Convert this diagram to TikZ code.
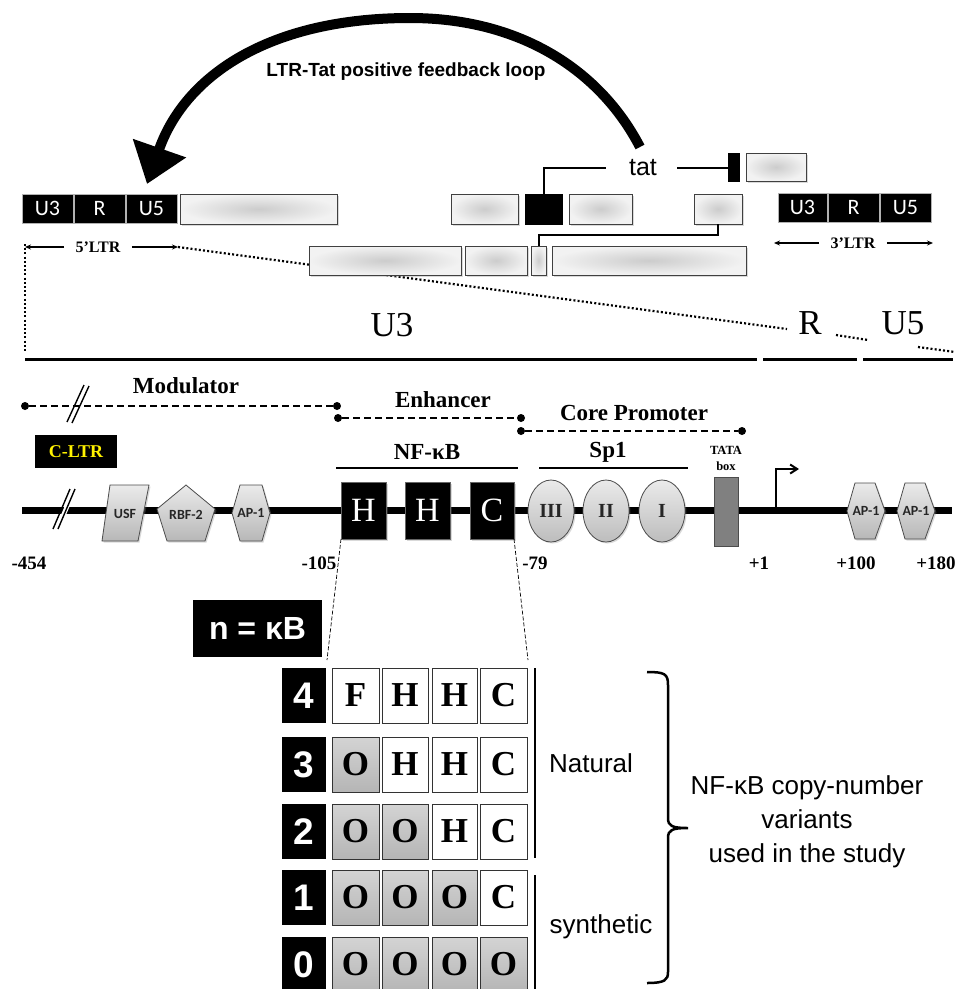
\documentclass[tikz,border=0pt]{standalone}
\usepackage{fontspec}
\setmainfont{Liberation Serif}
\newfontfamily\arial{Liberation Sans}
\newfontfamily\calib{Carlito}
\usetikzlibrary{arrows.meta,shapes.geometric,shadows}
\newcommand\myfs[1]{\fontsize{#1}{#1}\selectfont}
\newcommand\mybox[7]{\node[#1,inner sep=0pt,outer sep=0pt,anchor=north west,minimum width={(#5-#3)*1pt},minimum height={(#6-#4)*1pt}] (#2) at (#3,#4) {#7};}
\tikzset{
  shd/.style={drop shadow={opacity=0.3,shadow xshift=1.5pt,shadow yshift=-1.5pt}},
  gbox/.style={draw=black!75,line width=0.8pt,inner color=black!20,outer color=black!5,shd},
  blk/.style={fill=black,draw=black!30,line width=0.6pt,text=white,font=\calib\myfs{22}},
  blkx/.style={fill=black,draw=black},
  shp/.style={draw=black!70,line width=0.8pt,top color=black!8,bottom color=black!28,shd},
  shl/.style={font=\calib\bfseries\myfs{14},text=black!85},
  ell/.style={ellipse,draw=black!70,line width=0.8pt,top color=black!8,bottom color=black!26,shd,inner sep=0pt,font=\bfseries\myfs{20},text=black!85},
  hbx/.style={fill=black,draw=black!60,text=white,font=\myfs{34},shd},
  dotl/.style={line width=2.2pt,dash pattern=on 2pt off 2.2pt},
  dashl/.style={line width=2.2pt,dash pattern=on 7pt off 4pt},
  dotn/.style={circle,fill=black,inner sep=0pt,minimum size=8pt},
  lbl/.style={font=\bfseries\myfs{23}},
  poslbl/.style={font=\bfseries\myfs{19}},
  num/.style={fill=black,text=white,font=\arial\bfseries\myfs{37}},
  wc/.style={draw=black!80,line width=1pt,fill=white,font=\bfseries\myfs{35}},
  gc/.style={draw=black!80,line width=1pt,top color=black!17,bottom color=black!29,font=\bfseries\myfs{35}},
  sans/.style={font=\arial\myfs{26}},
  ltrarr/.style={line width=1.3pt,-{Stealth[length=6pt,width=5pt]}},
  tatl/.style={line width=2pt},
}
\begin{document}
\begin{tikzpicture}[x=1pt,y=-1pt]
\useasboundingbox (0,0) rectangle (955,989);

% feedback loop arc
\coordinate (arcS) at (640,147);
\coordinate (arcE) at (147,184);
\draw[line width=10pt,-{Triangle[length=38pt,width=54pt]}] (arcS) .. controls (600,70) and (520,18) .. (410,18) .. controls (270,18) and (185,75) .. (arcE);
\node[font=\arial\bfseries\myfs{19}] (loop) at (406,72) {LTR-Tat positive feedback loop};

% dotted zoom lines
\coordinate (l5a) at (25,247);
\coordinate (l5b) at (178,247);
\coordinate (dv) at (25,352);
\coordinate (dR) at (787,329);
\coordinate (dR1) at (836,335);
\coordinate (dR2) at (868,340);
\coordinate (dU1) at (918,347);
\coordinate (dU2) at (955,352);
\draw[dotl] (l5b) -- (dR);
\draw[dotl] (dR1) -- (dR2);
\draw[dotl] (dU1) -- (dU2);
\draw[dotl] ([yshift=3pt]l5a) -- (dv);

% top genome row
\mybox{blk}{u3a}{22}{194}{73}{223}{U3}
\mybox{blk}{ra}{74}{194}{125}{223}{R}
\mybox{blk}{u5a}{126}{194}{177}{223}{U5}
\mybox{gbox}{g1}{180}{194}{337}{224}{}
\mybox{gbox}{g2}{451}{194}{518}{224}{}
\mybox{blkx}{ex1}{525}{194}{562}{224}{}
\mybox{gbox}{g3}{569}{194}{632}{224}{}
\mybox{gbox}{g4}{694}{194}{742}{224}{}
\mybox{blkx}{t2blk}{728}{153}{739}{181}{}
\mybox{gbox}{g5}{746}{153}{806}{181}{}
\mybox{blk}{u3b}{778}{193}{827}{222}{U3}
\mybox{blk}{rb}{828}{193}{879}{222}{R}
\mybox{blk}{u5b}{880}{193}{931}{222}{U5}
\mybox{gbox}{h1}{309}{246}{461}{275}{}
\mybox{gbox}{h2}{465}{246}{527}{275}{}
\mybox{gbox}{h3}{531}{246}{546}{275}{}
\mybox{gbox}{h4}{552}{246}{746}{275}{}

% tat
\node[font=\arial\myfs{25}] (tat) at (643,168) {tat};
\draw[tatl] ([xshift=-20pt]tat.west) -| (ex1.north);
\draw[tatl] ([xshift=17pt]tat.east) -- (tat.east -| t2blk.west);
\draw[tatl] (g4.south) -- ++(0,11) -| (h3.north);

% LTR labels
\node[font=\bfseries\myfs{16}] (ltr5) at (98,247) {5’LTR};
\draw[ltrarr] ([xshift=-8pt]ltr5.west) -- (l5a);
\draw[ltrarr] ([xshift=8pt]ltr5.east) -- (l5b);
\node[font=\bfseries\myfs{16}] (ltr3) at (853,243) {3’LTR};
\coordinate (l3a) at (774,243);
\coordinate (l3b) at (933,243);
\draw[ltrarr] ([xshift=-8pt]ltr3.west) -- (l3a);
\draw[ltrarr] ([xshift=8pt]ltr3.east) -- (l3b);

% U3 R U5 zoom
\node[font=\myfs{35}] (bigU3) at (392,325) {U3};
\node[font=\myfs{35}] (bigR) at (810,323) {R};
\node[font=\myfs{35}] (bigU5) at (903,323) {U5};
\draw[line width=3pt] (25,359) -- (757,359);
\draw[line width=3pt] (763,359) -- (857,359);
\draw[line width=3pt] (863,359) -- (953,359);

% regions
\node[dotn] (m1) at (25,406) {};
\node[dotn] (m2) at (337,406) {};
\draw[dashl] (m1) -- (m2);
\draw[line width=1.4pt] (67,422) -- (84,385);
\draw[line width=1.4pt] (72,423) -- (89,386);
\node[lbl] (modl) at (186,386) {Modulator};
\node[dotn] (e1) at (338,418) {};
\node[dotn] (e2) at (521,418) {};
\draw[dashl] (e1) -- (e2);
\node[lbl] (enhl) at (443,400) {Enhancer};
\node[dotn] (c1) at (521,431) {};
\node[dotn] (c2) at (742,431) {};
\draw[dashl] (c1) -- (c2);
\node[lbl] (corel) at (634,413) {Core Promoter};

\mybox{fill=black}{cltr}{35}{435}{117}{468}{\textcolor{yellow}{\bfseries\myfs{18}C-LTR}}
\node[lbl] (nfl) at (427,452) {NF-κB};
\draw[line width=2pt] (336,468) -- (518,468);
\node[lbl] (spl) at (608,452) {Sp1};
\draw[line width=2pt] (539,468) -- (688,468);
\node[font=\bfseries\myfs{12.5}] (tatal) at (726,450) {TATA};
\node[font=\bfseries\myfs{12.5}] (boxl) at (726,466) {box};

% main line
\coordinate (ml1) at (22,510);
\coordinate (ml2) at (952,510);
\draw[line width=7pt] (ml1) -- (ml2);
\fill[white] (55,529) -- (72,489) -- (77,489) -- (60,529) -- cycle;
\draw[line width=1.4pt] (53,529) -- (70,489);
\draw[line width=1.4pt] (58,529) -- (75,489);

% shapes
\draw[shp] (110,485) -- (149,485) -- (138,541) -- (102,541) -- cycle;
\node[shl] (usf) at (125,514) {USF};
\draw[shp] (186,485) -- (215,509) -- (205,541) -- (167,541) -- (157,509) -- cycle;
\node[shl] (rbf) at (186,515) {RBF-2};
\draw[shp] (240,485) -- (262,485) -- (270,513) -- (262,541) -- (240,541) -- (232,513) -- cycle;
\node[shl] (ap1) at (251,513) {AP-1};
\draw[shp] (855,483) -- (875,483) -- (885,511) -- (875,539) -- (855,539) -- (847,511) -- cycle;
\node[shl] (ap2) at (866,511) {AP-1};
\draw[shp] (905,483) -- (925,483) -- (935,511) -- (925,539) -- (905,539) -- (897,511) -- cycle;
\node[shl] (ap3) at (916,511) {AP-1};

\mybox{hbx}{nh1}{341}{482}{386}{539}{H}
\mybox{hbx}{nh2}{405}{482}{450}{539}{H}
\mybox{hbx}{nc}{470}{482}{514}{539}{C}

\node[ell,minimum width=46pt,minimum height=62pt] (sp3) at (551,511) {III};
\node[ell,minimum width=46pt,minimum height=62pt] (sp2) at (606,511) {II};
\node[ell,minimum width=46pt,minimum height=62pt] (sp1) at (662,511) {I};

\mybox{fill=black!50,draw=black!70,line width=0.8pt}{tata}{714}{477}{738}{546}{}

\coordinate (tss) at (776,510);
\draw[line width=2pt,-{Straight Barb[length=7pt,width=9pt]}] (tss) -- (776,469) -- (799,469);

% positions
\node[poslbl] (p454) at (29,563) {-454};
\node[poslbl] (p105) at (319,563) {-105};
\node[poslbl] (p79) at (535,563) {-79};
\node[poslbl] (p1) at (759,563) {+1};
\node[poslbl] (p100) at (856,563) {+100};
\node[poslbl] (p180) at (936,563) {+180};

% zoom to variants
\coordinate (zl) at (327,660);
\coordinate (zr) at (528,660);
\draw[line width=0.7pt,dash pattern=on 4pt off 2pt] (nh1.south west) -- (zl);
\draw[line width=0.7pt,dash pattern=on 4pt off 2pt] (nc.south east) -- (zr);

\mybox{fill=black}{nkb}{193}{600}{322}{657}{\textcolor{white}{\arial\bfseries\myfs{32}n = κB}}

% variants
\mybox{num}{n4}{282}{668}{326}{723}{4}
\mybox{wc}{a41}{332}{668}{379}{723}{F}
\mybox{wc}{a42}{382}{668}{428}{723}{H}
\mybox{wc}{a43}{432}{668}{477}{723}{H}
\mybox{wc}{a44}{480}{668}{527}{723}{C}

\mybox{num}{n3}{282}{737}{326}{792}{3}
\mybox{gc}{a31}{332}{737}{379}{792}{O}
\mybox{wc}{a32}{382}{737}{428}{792}{H}
\mybox{wc}{a33}{432}{737}{477}{792}{H}
\mybox{wc}{a34}{480}{737}{527}{792}{C}

\mybox{num}{n2}{282}{804}{326}{859}{2}
\mybox{gc}{a21}{332}{804}{379}{859}{O}
\mybox{gc}{a22}{382}{804}{428}{859}{O}
\mybox{wc}{a23}{432}{804}{477}{859}{H}
\mybox{wc}{a24}{480}{804}{527}{859}{C}

\mybox{num}{n1}{282}{870}{326}{925}{1}
\mybox{gc}{a11}{332}{870}{379}{925}{O}
\mybox{gc}{a12}{382}{870}{428}{925}{O}
\mybox{gc}{a13}{432}{870}{477}{925}{O}
\mybox{wc}{a14}{480}{870}{527}{925}{C}

\mybox{num}{n0}{282}{937}{326}{992}{0}
\mybox{gc}{a01}{332}{937}{379}{992}{O}
\mybox{gc}{a02}{382}{937}{428}{992}{O}
\mybox{gc}{a03}{432}{937}{477}{992}{O}
\mybox{gc}{a04}{480}{937}{527}{992}{O}

\draw[line width=2pt] (535,668) -- (535,858);
\draw[line width=2pt] (535,875) -- (535,989);
\node[sans] (nat) at (591,763) {Natural};
\node[sans] (syn) at (601,927) {synthetic};

\coordinate (bt) at (647,672);
\coordinate (bb) at (647,983);
\draw[line width=2.5pt] (bt) .. controls (665,672) and (668,674) .. (668,685) -- (668,818) .. controls (668,826) and (672,828) .. (688,828) .. controls (672,828) and (668,830) .. (668,838) -- (668,972) .. controls (668,980) and (665,983) .. (bb);
\node[font=\arial\fontsize{26}{34}\selectfont,align=center] (cnv) at (807,822) {NF-κB copy-number\\variants\\used in the study};
\end{tikzpicture}
\end{document}
